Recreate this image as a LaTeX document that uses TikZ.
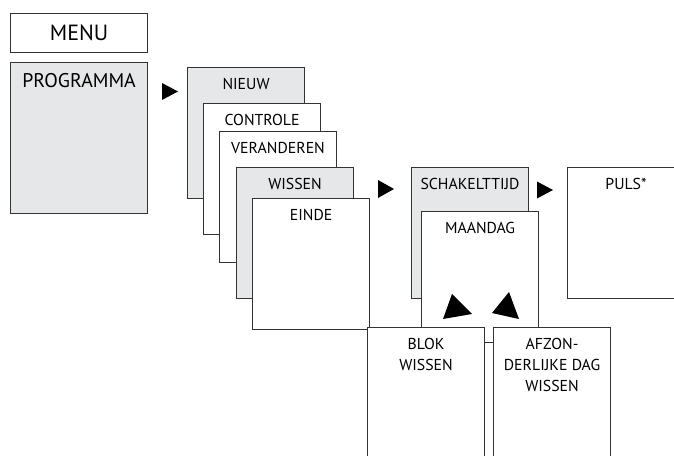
\documentclass[tikz,border=0pt]{standalone}
\usepackage{fontspec}
\setmainfont{PT Sans}
\usetikzlibrary{positioning}
\definecolor{panelgray}{HTML}{E6E7E8}

\begin{document}
\begin{tikzpicture}[x=1pt, y=-1pt, font=\fontsize{15.8}{21}\selectfont,
    screen/.style={rectangle, draw=black!80, line width=1.1pt, fill=white, minimum width=117pt, minimum height=131pt, anchor=north west, inner sep=0pt,
        label={[anchor=north, inner sep=0pt, yshift=-11pt, align=center]north:{#1}}},
    active/.style={screen=#1, fill=panelgray},
    pointer/.style={fill=black}
]
\clip (0,0) rectangle (674,455);

% top level
\node[rectangle, draw=black!80, line width=1.1pt, minimum width=137pt, minimum height=39pt, anchor=north west, font=\fontsize{22}{24}\selectfont] (menu) at (10,13) {MENU};
\node[active={\fontsize{19.8}{22}\selectfont PROGRAMMA}, minimum width=137pt, minimum height=151pt] (prog) at (10,62) {};

% program sub menu
\node[active=NIEUW] (nieuw) at (187,67) {};
\node[screen=CONTROLE] (contr) at (203,103) {};
\node[screen=VERANDEREN] (veran) at (219,131) {};
\node[active=WISSEN] (wissen) at (236,167) {};
\node[screen=EINDE] (einde) at (252,198) {};

% wissen
\node[active=SCHAKELTTIJD] (schak) at (411,167) {};
\node[screen=MAANDAG] (maand) at (421,211) {};
\node[screen=PULS*] (puls) at (567,167) {};
\node[screen={BLOK\\WISSEN}] (blok) at (367,327) {};
\node[screen={AFZON-\\DERLIJKE DAG\\WISSEN}] (afzon) at (493,327) {};

% pointers
\fill[pointer] (162,83) -- (178,91.5) -- (162,100) -- cycle;
\fill[pointer] (378,180) -- (394,189) -- (378,198) -- cycle;
\fill[pointer] (537,181.5) -- (553,190) -- (537,198.5) -- cycle;
\fill[pointer] (443,319) -- (452,294) -- (472,314) -- cycle;
\fill[pointer] (492,313) -- (509,292) -- (519,319) -- cycle;
\end{tikzpicture}
\end{document}
